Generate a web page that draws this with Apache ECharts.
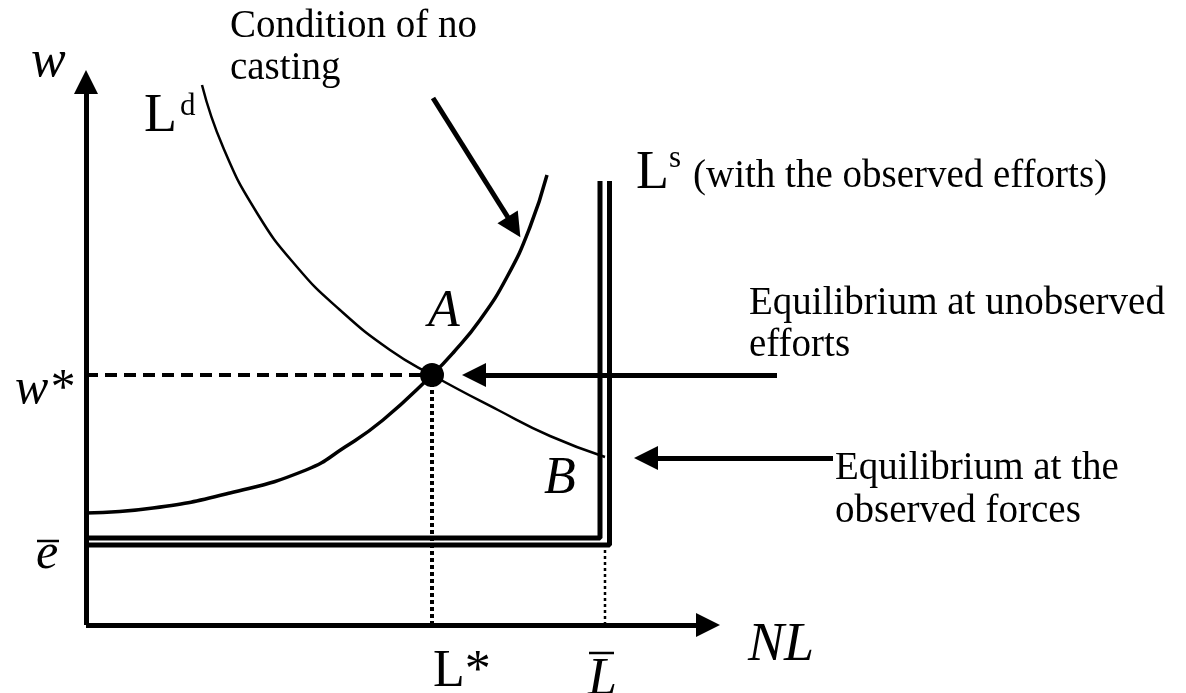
<!DOCTYPE html>
<html>
<head>
<meta charset="utf-8">
<script src="https://cdn.jsdelivr.net/npm/echarts@6/dist/echarts.min.js"></script>
<style>
  html, body { margin: 0; padding: 0; background: #fff; }
  #chart { width: 1186px; height: 693px; }
</style>
</head>
<body>
<div id="chart"></div>
<script>
// labour demand curve L^d
const ldX = [11.6, 13.7, 17.1, 21.1, 25.4, 30.4, 34.6, 41.2, 46.4, 51.9]
const ldY = [54.0, 47.8, 41.2, 35.8, 31.5, 27.5, 25.0, 21.5, 18.9, 16.8]
// condition of no casting (no shirking)
const ncX = [0, 6.7, 14.4, 22.0, 25.9, 29.7, 34.6, 36.7, 39.4, 42.1, 44.4, 46.1]
const ncY = [11.2, 11.7, 13.2, 15.5, 17.8, 20.5, 25.0, 27.2, 30.5, 34.8, 39.8, 45.0]
// L^s double line (two L shapes)
const lsInnerX = [51.4, 51.4, 0]
const lsInnerY = [44.4, 8.7, 8.7]
const lsOuterX = [52.35, 52.35, 0]
const lsOuterY = [44.4, 8.0, 8.0]
// equilibrium values
const wStar = 25
const lStar = 34.6
const lBar = 51.9
const eBarLow = 8.0
// arrows: start and end (shaft end, head sits on it)
const arrowFrom = [[0, 0], [0, 0], [34.7, 52.7], [69.1, 25], [74.7, 16.7]]
const arrowTo = [[62.2, 0], [0, 54.3], [42.8, 39.8], [38.8, 25], [56.0, 16.7]]

const serif = '"Liberation Serif", "Times New Roman", serif'
const pts = (xs, ys) => xs.map((x, i) => [x, ys[i]])

// text with baseline at y
const txt = (x, base, text, size, italic) => ({
  type: 'text',
  x: x,
  y: base - 0.3 * size,
  style: {
    text: text,
    font: (italic ? 'italic ' : '') + size + 'px ' + serif,
    fill: '#000',
    align: 'left',
    verticalAlign: 'middle',
  },
})
const bar = (x1, x2, y) => ({
  type: 'line',
  shape: { x1: x1, y1: y, x2: x2, y2: y },
  style: { stroke: '#000', lineWidth: 2.5 },
})

const plain = (data, width, dash) => ({
  type: 'line',
  data: data,
  symbol: 'none',
  clip: false,
  lineStyle: { color: '#000', width: width, type: dash || 'solid' },
})

var chart = echarts.init(document.getElementById('chart'))
chart.setOption({
  animation: false,
  backgroundColor: '#fff',
  grid: { left: 86, right: 100, top: 25, bottom: 68 },
  xAxis: { type: 'value', min: 0, max: 100, show: false },
  yAxis: { type: 'value', min: 0, max: 60, show: false },
  graphic: [
    txt(31, 78, 'w', 52, true),
    txt(144, 133, 'L', 54),
    txt(180, 116, 'd', 31),
    txt(230, 38, 'Condition of no', 39),
    txt(230, 80, 'casting', 39),
    txt(636, 190, 'L', 54),
    txt(669, 168, 's', 31),
    txt(693, 188, '(with the observed efforts)', 39),
    txt(428, 328, 'A', 52, true),
    txt(749, 315, 'Equilibrium at unobserved', 39),
    txt(749, 357, 'efforts', 39),
    txt(15, 405, 'w*', 50, true),
    txt(544, 495, 'B', 52, true),
    txt(835, 480, 'Equilibrium at the', 39),
    txt(835, 523, 'observed forces', 39),
    txt(36, 570, 'e', 50, true),
    bar(37, 59, 541),
    txt(433, 688, 'L*', 52),
    txt(588, 696, 'L', 52, true),
    bar(589, 614, 653),
    txt(748, 662, 'NL', 54, true),
  ],
  series: [
    Object.assign(plain(pts(ldX, ldY), 2.5), { smooth: 0.5 }),
    Object.assign(plain(pts(ncX, ncY), 3.5), { smooth: 0.5 }),
    plain(pts(lsInnerX, lsInnerY), 5),
    plain(pts(lsOuterX, lsOuterY), 5),
    plain([[0, wStar], [lStar, wStar]], 4, [12, 7]),
    plain([[lStar, 0], [lStar, wStar]], 4, [4, 3]),
    plain([[lBar, 0], [lBar, eBarLow]], 2.5, [3, 3]),
    {
      type: 'lines',
      coordinateSystem: 'cartesian2d',
      clip: false,
      symbol: ['none', 'triangle'],
      symbolSize: 24,
      lineStyle: { color: '#000', width: 5, opacity: 1, curveness: 0 },
      itemStyle: { color: '#000' },
      data: arrowFrom.map((f, i) => ({ coords: [f, arrowTo[i]] })),
    },
    {
      type: 'scatter',
      data: [[lStar, wStar]],
      symbolSize: 24,
      itemStyle: { color: '#000', opacity: 1 },
      z: 5,
    },
  ],
})
</script>
</body>
</html>
